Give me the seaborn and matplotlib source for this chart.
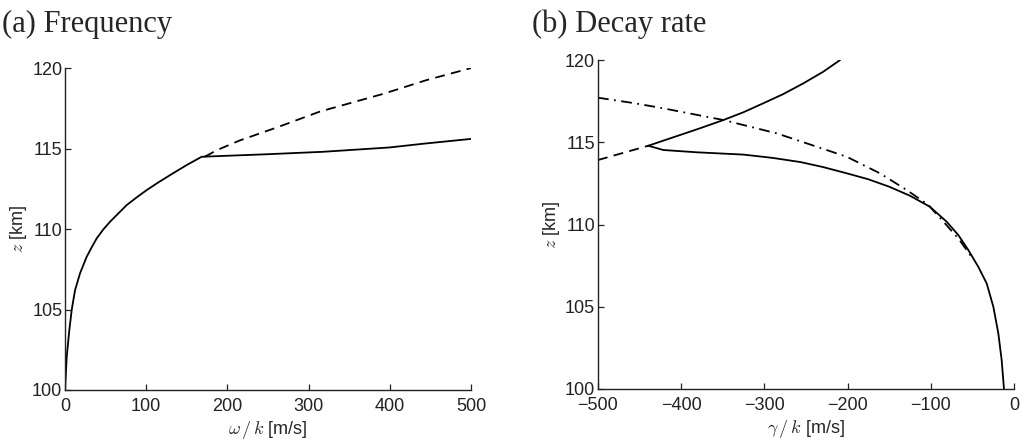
import matplotlib
matplotlib.use("Agg")
import matplotlib.pyplot as plt
import seaborn as sns
import pandas as pd

# (a) frequency: omega/k [m/s] against altitude z [km]
freq_x = [0, 2.1, 5.3, 8.2, 12.3, 18.5, 26.7, 32.8, 39, 47.2, 55.4, 65.7, 76, 88.3,
          100.6, 115, 129.3, 150, 168.3, 172.4]
freq_z = [100, 102.07, 103.73, 104.97, 106.2, 107.25, 108.28, 108.86, 109.42, 109.98,
          110.45, 110.97, 111.49, 111.97, 112.42, 112.9, 113.35, 113.98, 114.49, 114.5]
freq_hi_x = [172.4, 250, 318, 400, 441, 500]
freq_hi_z = [114.5, 114.65, 114.8, 115.07, 115.3, 115.6]
freq_dash_x = [172.4, 187, 215, 263, 314, 392, 445, 500]
freq_dash_z = [114.5, 114.9, 115.5, 116.35, 117.3, 118.4, 119.25, 120]

# (b) decay rate: gamma/k [m/s] against altitude z [km]
decay_x = [-12, -14.8, -18.8, -24.8, -32.8, -42.9, -54.9, -66.9, -80.9, -101, -125,
           -150, -175, -200, -230, -257, -290, -325, -381, -421.5, -439.5]
decay_z = [100, 101.76, 103.38, 105.0, 106.42, 107.43, 108.45, 109.36, 110.17, 111.08,
           111.75, 112.3, 112.75, 113.1, 113.5, 113.8, 114.05, 114.25, 114.39, 114.53, 114.79]
decay_up_x = [-439.5, -401.4, -377.4, -349.4, -325.4, -301.3, -277.3, -253.2, -229.2, -209]
decay_up_z = [114.79, 115.44, 115.85, 116.35, 116.82, 117.37, 117.93, 118.58, 119.29, 120]
decay_dash_x = [-500, -470, -439.5]
decay_dash_z = [113.92, 114.35, 114.79]
decay_dd_x = [-500, -455.5, -420, -349, -285, -253, -201, -161, -129, -103, -83, -66, -52]
decay_dd_z = [117.71, 117.37, 117.05, 116.35, 115.54, 115.0, 114.12, 113.11, 112.1,
              111.19, 110.07, 109.1, 108.1]

sns.set_style("ticks")
plt.rcParams["font.family"] = ["Liberation Sans", "DejaVu Sans"]
plt.rcParams["mathtext.fontset"] = "cm"

fig = plt.figure(figsize=(10.29, 4.48), dpi=100)
ax1 = fig.add_axes([0.0632, 0.1295, 0.3945, 0.7185])
ax2 = fig.add_axes([0.5811, 0.1317, 0.4043, 0.7343])

lw = 1.3
dash = (0, (5.5, 3.5))
dashdot = (0, (6, 3, 1, 3))


def draw(ax, xs, zs, ls):
    df = pd.DataFrame({"x": xs, "z": zs})
    sns.lineplot(data=df, x="x", y="z", ax=ax, sort=False, estimator=None,
                 color="black", lw=lw, linestyle=ls)


draw(ax1, freq_dash_x, freq_dash_z, dash)
draw(ax1, freq_x, freq_z, "-")
draw(ax1, freq_hi_x, freq_hi_z, "-")

draw(ax2, decay_dash_x, decay_dash_z, dash)
draw(ax2, decay_dd_x, decay_dd_z, dashdot)
draw(ax2, decay_x, decay_z, "-")
draw(ax2, decay_up_x, decay_up_z, "-")

ax1.set_xlim(0, 500)
ax1.set_xticks([0, 100, 200, 300, 400, 500])
ax2.set_xlim(-500, 0)
ax2.set_xticks([-500, -400, -300, -200, -100, 0])

for ax in (ax1, ax2):
    ax.set_ylim(100, 120)
    ax.set_yticks([100, 105, 110, 115, 120])
    sns.despine(ax=ax)
    for s in ("left", "bottom"):
        ax.spines[s].set_linewidth(1.0)
        ax.spines[s].set_color("#222222")
    ax.tick_params(direction="in", length=4, width=0.9, labelsize=13, pad=2,
                   colors="#222222")
    ax.tick_params(axis="x", pad=6)
    ax.set_ylabel(r"$z$ [km]", fontsize=13, labelpad=2)

ax1.set_xlabel(r"$\omega\,/\,k$ [m/s]", fontsize=13, labelpad=3)
ax2.set_xlabel(r"$\gamma\,/\,k$ [m/s]", fontsize=13, labelpad=3)

fig.text(0.002, 0.928, "(a) Frequency", family=["Liberation Serif", "DejaVu Serif"],
         fontsize=22)
fig.text(0.517, 0.928, "(b) Decay rate", family=["Liberation Serif", "DejaVu Serif"],
         fontsize=22)

fig.savefig("out.png", dpi=100)
